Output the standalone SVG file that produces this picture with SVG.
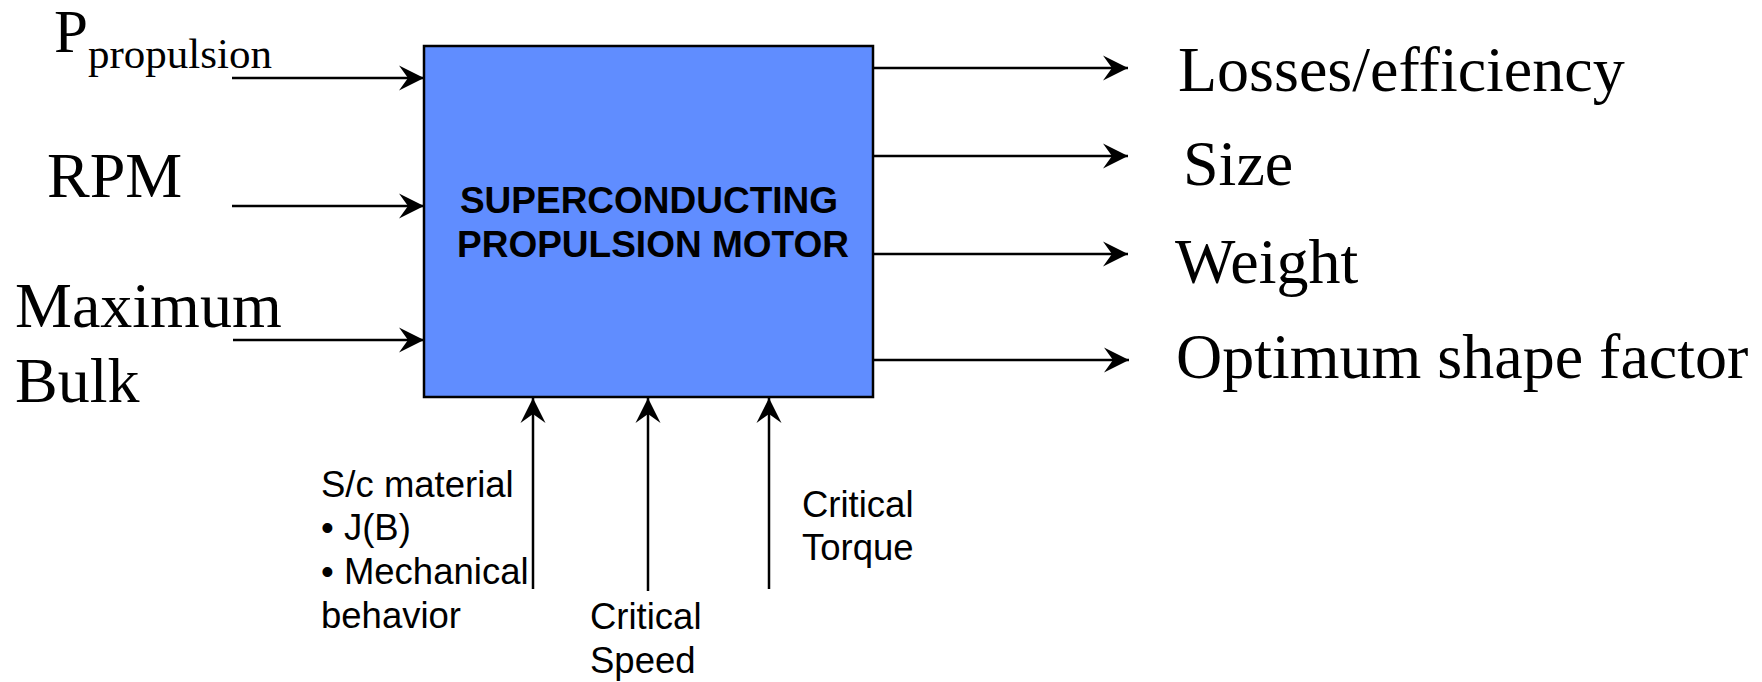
<svg xmlns="http://www.w3.org/2000/svg" width="1762" height="682" viewBox="0 0 1762 682">
<style>
.serif{font-family:"Liberation Serif","Times New Roman",serif;fill:#000}
.big{font-size:64px}
.sans{font-family:"Liberation Sans",Arial,sans-serif;fill:#000;font-size:36.5px}
.title{font-family:"Liberation Sans",Arial,sans-serif;font-weight:bold;font-size:37px;fill:#000;text-anchor:middle}
.conn{stroke:#000;stroke-width:2.5;fill:none;marker-end:url(#ah)}
</style>
<defs>
<marker id="ah" markerUnits="userSpaceOnUse" markerWidth="30" markerHeight="30" viewBox="-27 -14 30 28" refX="0" refY="0" orient="auto">
<path d="M0,0 L-25,-12.5 L-16,0 L-25,12.5 Z" fill="#000"/>
</marker>
</defs>
<rect width="1762" height="682" fill="#fff"/>
<g id="connectors">
<line class="conn" x1="232" y1="78" x2="424" y2="78"/>
<line class="conn" x1="232" y1="206" x2="424" y2="206"/>
<line class="conn" x1="233" y1="340" x2="424" y2="340"/>
<line class="conn" x1="873" y1="68" x2="1128" y2="68"/>
<line class="conn" x1="873" y1="156" x2="1128" y2="156"/>
<line class="conn" x1="873" y1="254" x2="1128" y2="254"/>
<line class="conn" x1="873" y1="360" x2="1129" y2="360"/>
<line class="conn" x1="533" y1="589" x2="533" y2="398"/>
<line class="conn" x1="648" y1="591" x2="648" y2="398"/>
<line class="conn" x1="769" y1="589" x2="769" y2="398"/>
</g>
<g id="motor">
<rect x="424" y="46" width="449" height="351" fill="#608DFF" stroke="#000" stroke-width="2.5"/>
<text class="title" x="649" y="213">SUPERCONDUCTING</text>
<text class="title" x="653" y="257">PROPULSION MOTOR</text>
</g>
<g id="in-power"><text class="serif" x="54" y="52" font-size="61">P<tspan font-size="43" y="68">propulsion</tspan></text></g>
<g id="in-rpm"><text class="serif big" x="47" y="197">RPM</text></g>
<g id="in-bulk"><text class="serif big" x="15" y="327">Maximum</text><text class="serif big" x="15" y="402">Bulk</text></g>
<g id="out-losses"><text class="serif big" x="1178" y="91">Losses/efficiency</text></g>
<g id="out-size"><text class="serif big" x="1183" y="185">Size</text></g>
<g id="out-weight"><text class="serif big" x="1175" y="283">Weight</text></g>
<g id="out-shape"><text class="serif big" x="1176" y="378">Optimum shape factor</text></g>
<g id="in-material">
<text class="sans" x="321" y="497">S/c material</text>
<text class="sans" x="321" y="540">• J(B)</text>
<text class="sans" x="321" y="584">• Mechanical</text>
<text class="sans" x="321" y="628">behavior</text>
</g>
<g id="in-speed">
<text class="sans" x="590" y="629">Critical</text>
<text class="sans" x="590" y="673">Speed</text>
</g>
<g id="in-torque">
<text class="sans" x="802" y="517">Critical</text>
<text class="sans" x="802" y="560">Torque</text>
</g>
</svg>
